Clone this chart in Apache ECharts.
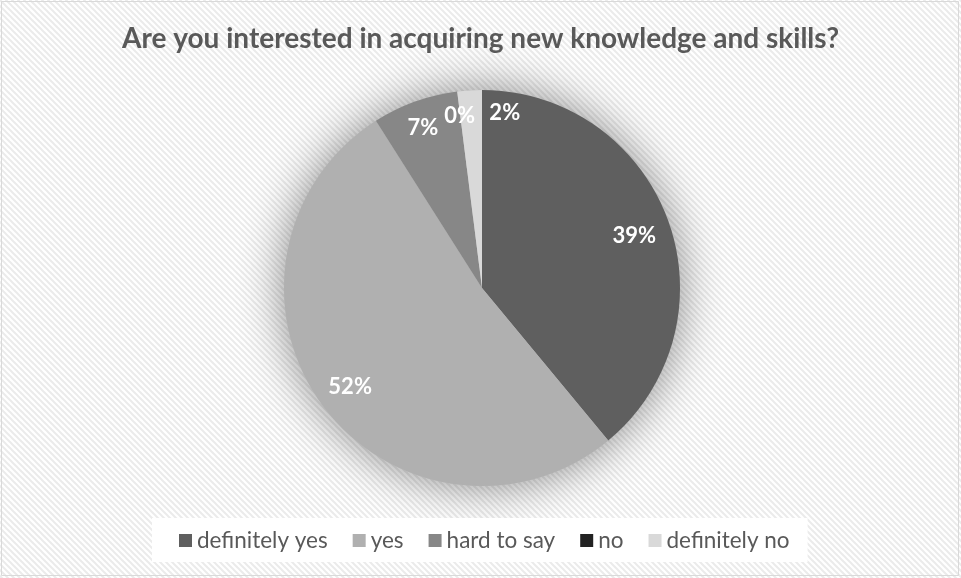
<!DOCTYPE html>
<html><head><meta charset="utf-8">
<script src="https://cdn.jsdelivr.net/npm/echarts@6/dist/echarts.min.js"></script>
<style>html,body{margin:0;padding:0;background:#fff}#c{width:961px;height:578px}</style>
</head><body><div id="c"></div>
<script>
const titleText = 'Are you interested in acquiring new knowledge and skills?';
const categories = ['definitely yes', 'yes', 'hard to say', 'no', 'definitely no'];
const values = [39, 52, 7, 0, 2];
const colors = ['#5f5f5f', '#b0b0b0', '#878787', '#222222', '#d9d9d9'];
// label nudges (style only)
const labelNudges = [[-1, 3], [0, 3], [-4, -7], [-2, -10], [33, -12]];

function makePattern() {
  const s = 6;
  const c = document.createElement('canvas');
  c.width = s; c.height = s;
  const g = c.getContext('2d');
  g.fillStyle = '#ffffff'; g.fillRect(0, 0, s, s);
  g.strokeStyle = '#ebebeb'; g.lineWidth = 2;
  g.beginPath();
  g.moveTo(-1, -1); g.lineTo(s + 1, s + 1);
  g.moveTo(-1, s - 1); g.lineTo(1, s + 1);
  g.moveTo(s - 1, -1); g.lineTo(s + 1, 1);
  g.stroke();
  return c;
}

const chart = echarts.init(document.getElementById('c'));
const center = [482, 288];
const R = 198;
const fontFam = 'Lato, "Open Sans", sans-serif';

chart.setOption({
  animation: false,
  backgroundColor: { image: makePattern(), repeat: 'repeat' },
  title: {
    text: titleText, left: 'center', top: 20,
    textStyle: { fontFamily: fontFam, fontWeight: 'bold', fontSize: 28, color: '#595959' }
  },
  legend: {
    data: categories, left: 152, top: 518, padding: [11, 18, 10, 27],
    backgroundColor: '#ffffff', itemWidth: 13, itemHeight: 13, itemGap: 25, icon: 'rect',
    selectedMode: false,
    textStyle: { fontFamily: fontFam, fontSize: 22.5, color: '#595959', lineHeight: 22 }
  },
  graphic: [{
    type: 'rect', silent: true, z: 100,
    shape: { x: 1.5, y: 1.5, width: 957, height: 574 },
    style: { fill: 'none', stroke: '#d9d9d9', lineWidth: 1 }
  }],
  series: [
    {
      type: 'pie', name: 'main', center: center, radius: R, z: 2,
      startAngle: 90, clockwise: true, silent: true,
      label: { show: false }, labelLine: { show: false },
      emphasis: { disabled: true },
      data: categories.map((n, i) => ({ name: n, value: values[i], itemStyle: { color: colors[i], borderWidth: 0 } }))
    },
    {
      type: 'pie', name: 'glow', center: center, radius: R, z: 1,
      silent: true, legendHoverLink: false,
      label: { show: false }, labelLine: { show: false },
      emphasis: { disabled: true },
      data: [{ name: '__glow', value: 1, itemStyle: { color: '#bdbdbd', shadowBlur: 45, shadowColor: 'rgba(0,0,0,0.45)' } }]
    },
    {
      type: 'pie', name: 'labels', center: center, radius: [122, R], z: 3,
      startAngle: 90, clockwise: true, silent: true,
      itemStyle: { color: 'rgba(0,0,0,0)' },
      emphasis: { disabled: true },
      label: {
        show: true, position: 'inside', formatter: '{d}%',
        color: '#ffffff', fontFamily: fontFam, fontWeight: 'bold', fontSize: 22
      },
      labelLine: { show: false },
      labelLayout: function (p) {
        const d = labelNudges[p.dataIndex] || [0, 0];
        return { dx: d[0], dy: d[1] };
      },
      data: categories.map((n, i) => ({ name: n, value: values[i] }))
    }
  ]
});
</script>
</body></html>
